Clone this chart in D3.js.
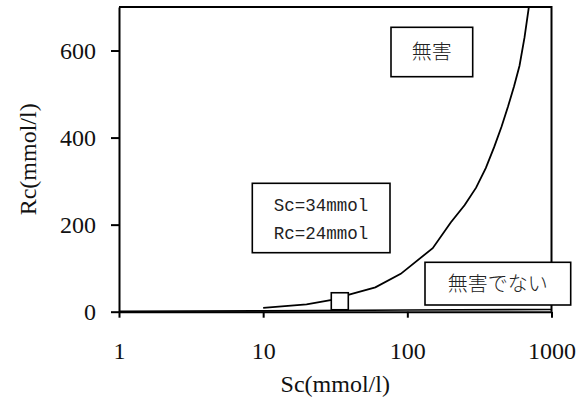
<!DOCTYPE html>
<html>
<head>
<meta charset="utf-8">
<script src="https://cdn.jsdelivr.net/npm/d3@7"></script>
<style>
  body { margin: 0; background: #fff; }
  svg { display: block; }
  .axis path, .axis line { stroke: #000; stroke-width: 2; }
</style>
</head>
<body>
<script>
// curve Rc vs Sc (log x)
var scVals = [10, 20, 30, 40, 60, 90, 150, 200, 250, 300, 350, 400, 450, 500, 550, 600, 650, 700];
var rcVals = [9, 17, 27, 40, 56, 87, 146, 205, 245, 285, 330, 378, 425, 472, 518, 565, 630, 705];
// second line, close to zero
var sc2 = [1, 10, 100, 1000];
var rc2 = [1, 2, 4, 5];
// crossing point
var crossSc = 34, crossRc = 24;
var xTicks = [1, 10, 100, 1000];
var yTicks = [0, 200, 400, 600];

var W = 586, H = 405;
var plotL = 119, plotR = 551.5, plotT = 7, plotB = 311.7;
var serif = "'Liberation Serif', 'Times New Roman', serif";

var svg = d3.select("body").append("svg")
    .attr("width", W)
    .attr("height", H);

var x = d3.scaleLog().domain([1, 1000]).range([plotL, plotR]);
var y = d3.scaleLinear().domain([0, 700]).range([plotB, plotT]);

// frame (top + right)
svg.append("path")
    .attr("d", "M" + plotL + "," + plotT + "H" + plotR + "V" + plotB)
    .attr("fill", "none")
    .attr("stroke", "#000")
    .attr("stroke-width", 2);

// axes
svg.append("g")
    .attr("class", "axis")
    .attr("transform", "translate(0," + plotB + ")")
    .call(d3.axisBottom(x).tickValues(xTicks).tickFormat(d3.format("d"))
        .tickSizeInner(6).tickSizeOuter(0).tickPadding(24));

svg.append("g")
    .attr("class", "axis")
    .attr("transform", "translate(" + plotL + ",0)")
    .call(d3.axisLeft(y).tickValues(yTicks).tickSizeInner(8).tickSizeOuter(0).tickPadding(15));

svg.selectAll(".axis").attr("font-family", null).attr("font-size", null);
svg.selectAll(".axis .tick text")
    .attr("fill", "#111")
    .style("font-family", serif)
    .style("font-size", "24px");

// lines
var line = d3.line()
    .x(function(d) { return x(d[0]); })
    .y(function(d) { return y(d[1]); });

svg.append("path")
    .datum(d3.zip(sc2, rc2))
    .attr("d", line)
    .attr("fill", "none")
    .attr("stroke", "#000")
    .attr("stroke-width", 1.6);

svg.append("path")
    .datum(d3.zip(scVals, rcVals))
    .attr("d", line)
    .attr("fill", "none")
    .attr("stroke", "#000")
    .attr("stroke-width", 1.8);

// cover anything above the plot top
svg.append("rect").attr("x", plotL + 1).attr("y", 0).attr("width", plotR - plotL - 2).attr("height", plotT - 1).attr("fill", "#fff");

// marker at the crossing point
var ms = 17;
svg.append("rect")
    .attr("x", x(crossSc) - ms / 2)
    .attr("y", y(crossRc) - ms / 2)
    .attr("width", ms)
    .attr("height", ms)
    .attr("fill", "#fff")
    .attr("stroke", "#000")
    .attr("stroke-width", 1.6);

// text boxes
function box(x0, y0, w, h) {
  svg.append("rect")
      .attr("x", x0).attr("y", y0)
      .attr("width", w).attr("height", h)
      .attr("fill", "#fff")
      .attr("stroke", "#000")
      .attr("stroke-width", 1.6);
}

box(391, 27.3, 81.7, 49.4);
svg.append("text")
    .attr("x", 431.8).attr("y", 52)
    .attr("dy", "0.35em")
    .attr("text-anchor", "middle")
    .style("font-family", "'Noto Sans CJK JP'")
    .style("font-size", "20px")
    .style("font-weight", 300)
    .attr("fill", "#222")
    .text("無害");

box(252.3, 183.3, 137.7, 69.4);
svg.append("text")
    .attr("x", 321).attr("y", 205)
    .attr("dy", "0.35em")
    .attr("text-anchor", "middle")
    .style("font-family", "'Liberation Mono', monospace")
    .style("font-size", "17.5px")
    .attr("fill", "#222")
    .text("Sc=" + crossSc + "mmol");
svg.append("text")
    .attr("x", 321).attr("y", 233)
    .attr("dy", "0.35em")
    .attr("text-anchor", "middle")
    .style("font-family", "'Liberation Mono', monospace")
    .style("font-size", "17.5px")
    .attr("fill", "#222")
    .text("Rc=" + crossRc + "mmol");

box(425, 262.3, 145.7, 42.7);
svg.append("text")
    .attr("x", 497.8).attr("y", 284)
    .attr("dy", "0.35em")
    .attr("text-anchor", "middle")
    .style("font-family", "'Noto Sans CJK JP'")
    .style("font-size", "20px")
    .style("font-weight", 300)
    .attr("fill", "#222")
    .text("無害でない");

// axis titles
svg.append("text")
    .attr("x", (plotL + plotR) / 2).attr("y", 392)
    .attr("text-anchor", "middle")
    .style("font-family", serif)
    .style("font-size", "24px")
    .attr("fill", "#111")
    .text("Sc(mmol/l)");

svg.append("text")
    .attr("transform", "translate(36," + ((plotT + plotB) / 2) + ") rotate(-90)")
    .attr("text-anchor", "middle")
    .style("font-family", serif)
    .style("font-size", "24px")
    .attr("fill", "#111")
    .text("Rc(mmol/l)");
</script>
</body>
</html>
